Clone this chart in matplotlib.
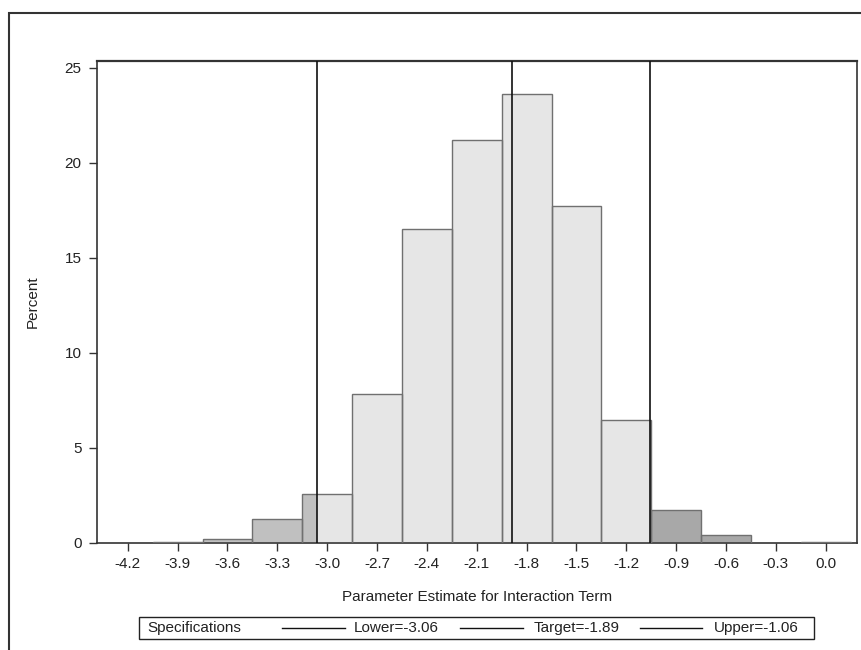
import matplotlib
matplotlib.use("Agg")
import matplotlib.pyplot as plt
from matplotlib.patches import Rectangle
from matplotlib.lines import Line2D

# ----- data -----
BIN_MIDS = [-4.2, -3.9, -3.6, -3.3, -3.0, -2.7, -2.4, -2.1, -1.8, -1.5, -1.2, -0.9, -0.6, -0.3, 0.0]
PERCENTS = [0.0, 0.05, 0.2, 1.25, 2.6, 7.85, 16.5, 21.2, 23.6, 17.75, 6.45, 1.72, 0.4, 0.0, 0.04]
BIN_WIDTH = 0.3
LOWER = -3.06
TARGET = -1.89
UPPER = -1.06
XTICKS = BIN_MIDS
YTICKS = [0, 5, 10, 15, 20, 25]
# -----------------------------------

W, H = 862, 650
IN_COLOR = "#e6e6e6"
LOW_COLOR = "#c0c0c0"
HIGH_COLOR = "#a8a8a8"
EDGE = "#707070"
FONT = "Liberation Sans"

plt.rcParams["font.family"] = [FONT, "DejaVu Sans"]
plt.rcParams["font.size"] = 11

fig = plt.figure(figsize=(W / 100, H / 100), dpi=100)


def fx(px):
    return px / W


def fy(py):
    return 1 - py / H


ax = fig.add_axes([fx(97), fy(543), fx(857) - fx(97), fy(61) - fy(543)])

# bars: fill each bin piecewise by spec region, then outline
for mid, pct in zip(BIN_MIDS, PERCENTS):
    if pct <= 0:
        continue
    lo, hi = mid - BIN_WIDTH / 2, mid + BIN_WIDTH / 2
    segs = [(lo, min(hi, LOWER), LOW_COLOR),
            (max(lo, LOWER), min(hi, UPPER), IN_COLOR),
            (max(lo, UPPER), hi, HIGH_COLOR)]
    for a, b, c in segs:
        if b > a:
            ax.bar(a, pct, width=b - a, align="edge", color=c, linewidth=0, zorder=2)
    ax.bar(mid, pct, width=BIN_WIDTH, facecolor="none", edgecolor=EDGE, linewidth=1.0, zorder=3)

for v in (LOWER, TARGET, UPPER):
    ax.axvline(v, color="#111111", linewidth=1.2, zorder=4)

ax.set_xlim(-4.385, 0.188)
ax.set_ylim(0, 25.35)
ax.set_xticks(XTICKS)
ax.set_xticklabels([f"{t:.1f}" for t in XTICKS])
ax.set_yticks(YTICKS)
ax.tick_params(direction="out", length=6, width=1, colors="#333333", labelcolor="#222222", labelsize=11)
ax.tick_params(axis="x", pad=4)
ax.tick_params(axis="y", pad=5)
for s in ax.spines.values():
    s.set_color("#333333")
    s.set_linewidth(1.2)
ax.spines["top"].set_linewidth(1.6)

fig.text(fx(33), fy(302), "Percent", rotation=90, ha="center", va="center", color="#222222")
fig.text(fx(477), fy(597), "Parameter Estimate for Interaction Term", ha="center", va="center", color="#222222")

# legend box
fig.add_artist(Rectangle((fx(139), fy(639)), fx(814) - fx(139), fy(617) - fy(639),
                         transform=fig.transFigure, fill=False, edgecolor="#222222", linewidth=1.0))
ly = fy(628)
fig.text(fx(147), ly, "Specifications", ha="left", va="center", color="#222222")
entries = [(282, 345, 354, f"Lower={LOWER:.2f}"),
           (460, 523, 534, f"Target={TARGET:.2f}"),
           (640, 702, 714, f"Upper={UPPER:.2f}")]
for x0, x1, xt, label in entries:
    fig.add_artist(Line2D([fx(x0), fx(x1)], [ly, ly], transform=fig.transFigure,
                          color="#111111", linewidth=1.0))
    fig.text(fx(xt), ly, label, ha="left", va="center", color="#222222")

# outer frame (only left and top edges fall inside the image)
fig.add_artist(Rectangle((fx(9), -0.5), 2, fy(13) + 0.5, transform=fig.transFigure,
                         fill=False, edgecolor="#333333", linewidth=1.5, clip_on=False))

fig.savefig("out.png", dpi=100)
